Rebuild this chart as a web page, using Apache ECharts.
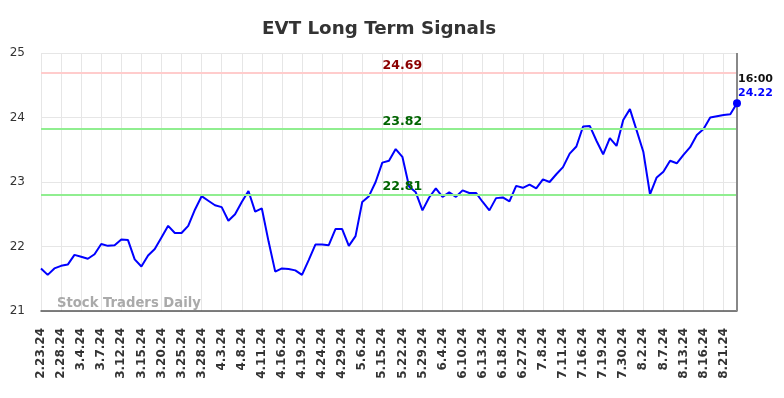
<!DOCTYPE html>
<html>
<head>
<meta charset="utf-8">
<script src="https://cdn.jsdelivr.net/npm/echarts@6/dist/echarts.min.js"></script>
<style>
  html, body { margin: 0; padding: 0; background: #fff; }
  #chart { width: 784px; height: 398px; }
</style>
</head>
<body>
<div id="chart"></div>
<script>
// trading days shown on the axis (every 3rd one gets a label)
const dates = [
  "2.23.24", "2.26.24", "2.27.24", "2.28.24", "2.29.24", "3.1.24", "3.4.24", "3.5.24", "3.6.24", "3.7.24",
  "3.8.24", "3.11.24", "3.12.24", "3.13.24", "3.14.24", "3.15.24", "3.18.24", "3.19.24", "3.20.24", "3.21.24",
  "3.22.24", "3.25.24", "3.26.24", "3.27.24", "3.28.24", "4.1.24", "4.2.24", "4.3.24", "4.4.24", "4.5.24",
  "4.8.24", "4.9.24", "4.10.24", "4.11.24", "4.12.24", "4.15.24", "4.16.24", "4.17.24", "4.18.24", "4.19.24",
  "4.22.24", "4.23.24", "4.24.24", "4.25.24", "4.26.24", "4.29.24", "4.30.24", "5.1.24", "5.6.24", "5.8.24",
  "5.13.24", "5.15.24", "5.17.24", "5.20.24", "5.22.24", "5.24.24", "5.28.24", "5.29.24", "5.31.24", "6.3.24",
  "6.4.24", "6.6.24", "6.7.24", "6.10.24", "6.11.24", "6.12.24", "6.13.24", "6.14.24", "6.17.24", "6.18.24",
  "6.21.24", "6.25.24", "6.27.24", "7.1.24", "7.5.24", "7.8.24", "7.9.24", "7.10.24", "7.11.24", "7.12.24",
  "7.15.24", "7.16.24", "7.17.24", "7.18.24", "7.19.24", "7.23.24", "7.26.24", "7.30.24", "7.31.24", "8.1.24",
  "8.2.24", "8.5.24", "8.6.24", "8.7.24", "8.8.24", "8.12.24", "8.13.24", "8.14.24", "8.15.24", "8.16.24",
  "8.19.24", "8.20.24", "8.21.24", "8.22.24", "8.23.24"
];

const prices = [
  21.66, 21.56, 21.66, 21.70, 21.72, 21.87, 21.84, 21.81, 21.88, 22.04,
  22.01, 22.02, 22.11, 22.10, 21.80, 21.69, 21.86, 21.96, 22.14, 22.32,
  22.21, 22.21, 22.32, 22.57, 22.78, 22.71, 22.64, 22.61, 22.40, 22.50,
  22.69, 22.86, 22.54, 22.59, 22.08, 21.61, 21.66, 21.65, 21.63, 21.56,
  21.79, 22.03, 22.03, 22.02, 22.27, 22.27, 22.01, 22.16, 22.69, 22.78,
  23.00, 23.30, 23.33, 23.51, 23.39, 22.93, 22.84, 22.56, 22.76, 22.90,
  22.77, 22.84, 22.77, 22.87, 22.83, 22.83, 22.69, 22.56, 22.75, 22.76,
  22.70, 22.94, 22.91, 22.96, 22.90, 23.04, 23.00, 23.12, 23.23, 23.44,
  23.55, 23.86, 23.87, 23.64, 23.43, 23.68, 23.56, 23.96, 24.13, 23.80,
  23.47, 22.81, 23.07, 23.16, 23.33, 23.29, 23.42, 23.54, 23.73, 23.82,
  24.00, 24.02, 24.04, 24.05, 24.22
];

const resistance = 24.69;
const supports = [23.82, 22.81];
const lastTime = "16:00";

const FONT = "DejaVu Sans";
const lastIdx = prices.length - 1;
const labelIdx = 53.5;

const chart = echarts.init(document.getElementById("chart"));

const levelLine = (v, lineColor) => ({
  yAxis: v,
  lineStyle: { color: lineColor, width: 2, type: "solid" },
  label: { show: false }
});
const levelText = (v, textColor) => ({
  coord: [labelIdx, v],
  value: v,
  symbol: "circle",
  symbolSize: 0,
  label: {
    show: true,
    position: "top",
    distance: 1,
    formatter: v.toFixed(2),
    color: textColor,
    fontFamily: FONT,
    fontWeight: "bold",
    fontSize: 12.5
  }
});

chart.setOption({
  animation: false,
  backgroundColor: "#fff",
  title: [
    {
      text: "EVT Long Term Signals",
      left: 257,
      top: 15,
      textStyle: { fontFamily: FONT, fontSize: 18.3, fontWeight: "bold", color: "#333" }
    },
    {
      text: "Stock Traders Daily",
      left: 52,
      top: 292,
      textStyle: { fontFamily: FONT, fontSize: 13.2, fontWeight: "bold", color: "#aaa" }
    }
  ],
  grid: { left: 41, right: 47, top: 53, bottom: 87 },
  xAxis: {
    type: "category",
    data: dates,
    boundaryGap: false,
    axisLine: { lineStyle: { color: "#555", width: 1.5 } },
    axisTick: { show: false },
    axisLabel: {
      interval: 2,
      rotate: 90,
      margin: 17,
      fontFamily: FONT,
      fontSize: 12,
      fontWeight: "bold",
      color: "#333"
    },
    splitLine: { show: true, interval: 2, lineStyle: { color: "#e6e6e6", width: 1 } }
  },
  yAxis: {
    type: "value",
    min: 21,
    max: 25,
    interval: 1,
    axisLine: { show: false },
    axisTick: { show: false },
    axisLabel: { margin: 16, fontFamily: FONT, fontSize: 12, color: "#333" },
    splitLine: { lineStyle: { color: "#e6e6e6", width: 1 } }
  },
  series: [
    {
      type: "line",
      data: prices,
      symbol: "none",
      lineStyle: { color: "#0000ff", width: 2 },
      markLine: {
        silent: true,
        symbol: "none",
        data: [
          levelLine(resistance, "#ffcccc"),
          levelLine(supports[0], "#90ee90"),
          levelLine(supports[1], "#90ee90"),
          {
            xAxis: dates[lastIdx],
            lineStyle: { color: "#888", width: 2, type: "solid" },
            label: { show: false }
          }
        ]
      },
      markPoint: {
        silent: true,
        data: [
          levelText(resistance, "#8b0000"),
          levelText(supports[0], "#006400"),
          levelText(supports[1], "#006400"),
          {
            coord: [lastIdx, prices[lastIdx]],
            value: prices[lastIdx],
            symbol: "circle",
            symbolSize: 8,
            itemStyle: { color: "#0000ff" },
            label: {
              show: true,
              position: [5, -27],
              align: "left",
              verticalAlign: "top",
              lineHeight: 14,
              formatter: "{t|" + lastTime + "}\n{v|" + prices[lastIdx].toFixed(2) + "}",
              rich: {
                t: { fontFamily: FONT, fontWeight: "bold", fontSize: 11, color: "#111", lineHeight: 14 },
                v: { fontFamily: FONT, fontWeight: "bold", fontSize: 11, color: "#0000ff", lineHeight: 14 }
              }
            }
          }
        ]
      }
    }
  ]
});
</script>
</body>
</html>
